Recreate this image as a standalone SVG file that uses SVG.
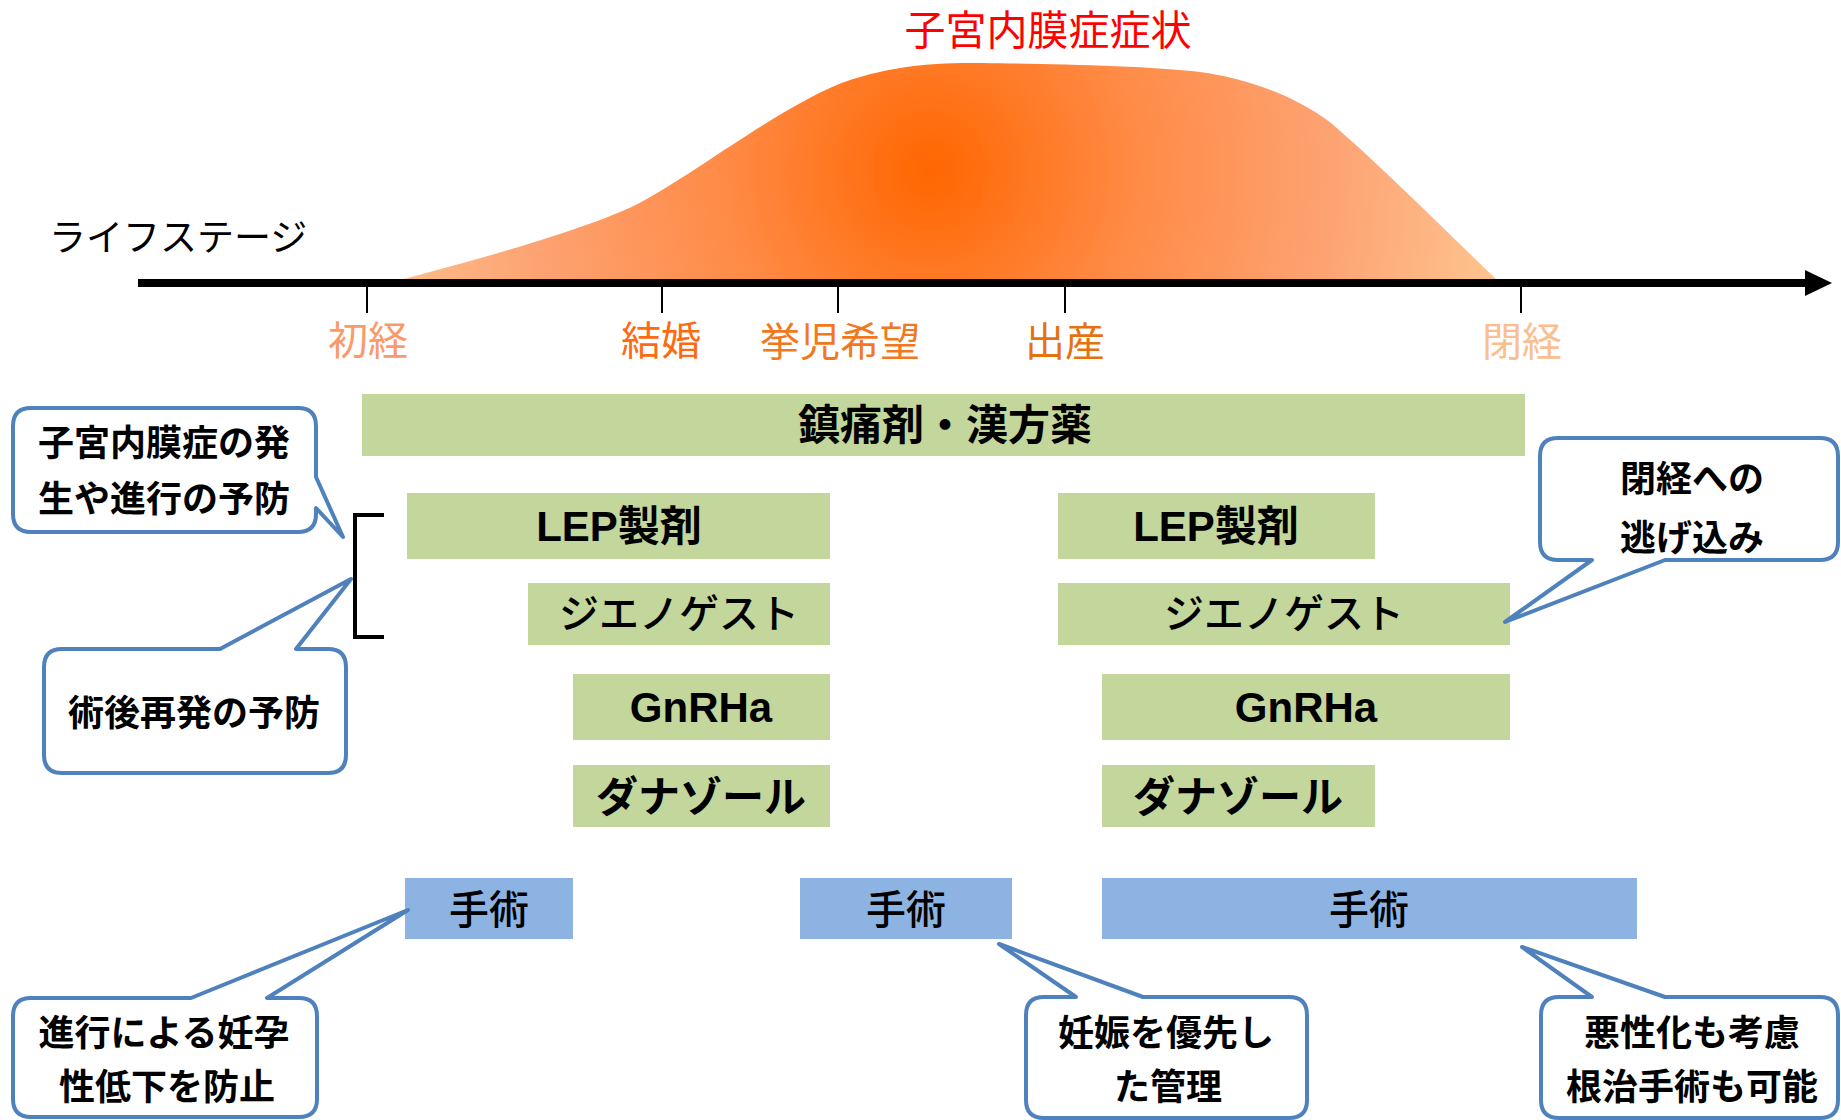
<svg xmlns="http://www.w3.org/2000/svg" width="1841" height="1120" viewBox="0 0 1841 1120">
<style>
.jp{font-family:"Noto Sans CJK JP","Liberation Sans",sans-serif}
.mix{font-family:"Liberation Sans","Noto Sans CJK JP",sans-serif}
.lbl{font-size:40px;text-anchor:middle}
.bar{fill:#C3D69B}
.sur{fill:#8DB3E2}
.bt{font-size:42px;font-weight:bold;text-anchor:middle;fill:#000}
.st{font-size:40px;font-weight:500;text-anchor:middle;fill:#000}
.co{fill:#fff;stroke:#4F81BD;stroke-width:4;stroke-linejoin:round}
.ct{font-size:36px;font-weight:bold;text-anchor:middle;fill:#000}
.tick{stroke:#000;stroke-width:2}
</style>
<defs>
<radialGradient id="hump" gradientUnits="userSpaceOnUse" cx="930" cy="170" r="580">
<stop offset="0" stop-color="#FF6600"/>
<stop offset="0.35" stop-color="#FF8A45"/>
<stop offset="0.7" stop-color="#FDA373"/>
<stop offset="1" stop-color="#FDC590"/>
</radialGradient>
</defs>
<rect width="1841" height="1120" fill="#fff"/>

<g id="symptom-curve">
<path d="M388,283 C470,262 600,226 645,200 C700,170 790,100 850,80 C890,67 930,62 983,63 C1050,64 1150,66 1200,72 C1245,78 1295,95 1331,123 C1380,165 1440,225 1500,283 Z" fill="url(#hump)"/>
<text class="jp" x="1048" y="45" font-size="41" text-anchor="middle" fill="#FF0000">子宮内膜症症状</text>
</g>

<g id="timeline">
<text class="jp" x="49" y="251" font-size="37" fill="#000">ライフステージ</text>
<line x1="138" y1="283" x2="1807" y2="283" stroke="#000" stroke-width="8"/>
<polygon points="1805,270 1832,283 1805,296" fill="#000"/>
<line class="tick" x1="367" y1="287" x2="367" y2="313"/>
<line class="tick" x1="662" y1="287" x2="662" y2="313"/>
<line class="tick" x1="838" y1="287" x2="838" y2="313"/>
<line class="tick" x1="1065" y1="287" x2="1065" y2="313"/>
<line class="tick" x1="1521" y1="287" x2="1521" y2="313"/>
<text class="jp lbl" x="368" y="355" fill="#FA9A6A">初経</text>
<text class="jp lbl" x="661" y="355" fill="#FF6A10">結婚</text>
<text class="jp lbl" x="840" y="356" fill="#F2781E">挙児希望</text>
<text class="jp lbl" x="1065" y="356" fill="#E6720F">出産</text>
<text class="jp lbl" x="1522" y="356" fill="#FBBE8E">閉経</text>
</g>

<g id="analgesic">
<rect class="bar" x="362" y="394" width="1163" height="62"/>
<text class="jp bt" x="945" y="440">鎮痛剤・漢方薬</text>
</g>
<g id="lep-left">
<rect class="bar" x="407" y="493" width="423" height="66"/>
<text class="mix bt" x="619" y="541">LEP製剤</text>
</g>
<g id="dienogest-left">
<rect class="bar" x="528" y="583" width="302" height="62"/>
<text class="jp st" x="679" y="628" font-size="37">ジエノゲスト</text>
</g>
<g id="gnrha-left">
<rect class="bar" x="573" y="674" width="257" height="66"/>
<text class="mix bt" x="701" y="722">GnRHa</text>
</g>
<g id="danazol-left">
<rect class="bar" x="573" y="765" width="257" height="62"/>
<text class="jp bt" x="701" y="812">ダナゾール</text>
</g>

<g id="lep-right">
<rect class="bar" x="1058" y="493" width="317" height="66"/>
<text class="mix bt" x="1216" y="541">LEP製剤</text>
</g>
<g id="dienogest-right">
<rect class="bar" x="1058" y="583" width="452" height="62"/>
<text class="jp st" x="1284" y="628" font-size="37">ジエノゲスト</text>
</g>
<g id="gnrha-right">
<rect class="bar" x="1102" y="674" width="408" height="66"/>
<text class="mix bt" x="1306" y="722">GnRHa</text>
</g>
<g id="danazol-right">
<rect class="bar" x="1102" y="765" width="273" height="62"/>
<text class="jp bt" x="1238" y="812">ダナゾール</text>
</g>

<g id="surgery-1">
<rect class="sur" x="405" y="878" width="168" height="61"/>
<text class="jp st" x="489" y="924">手術</text>
</g>
<g id="surgery-2">
<rect class="sur" x="800" y="878" width="212" height="61"/>
<text class="jp st" x="906" y="924">手術</text>
</g>
<g id="surgery-3">
<rect class="sur" x="1102" y="878" width="535" height="61"/>
<text class="jp st" x="1369" y="924">手術</text>
</g>

<g id="connectors">
<path d="M384,515 H355 V637 H384" fill="none" stroke="#000" stroke-width="4"/>
</g>

<g id="callout-prevent">
<path class="co" d="M31,408 H298 Q316,408 316,426 V477 L343,537 L316,508 V514 Q316,532 298,532 H31 Q13,532 13,514 V426 Q13,408 31,408 Z"/>
<text class="jp ct" x="164" y="456">子宮内膜症の発</text>
<text class="jp ct" x="164" y="512">生や進行の予防</text>
</g>
<g id="callout-postop">
<path class="co" d="M62,649 H220 L351,579 L296,649 H328 Q346,649 346,667 V755 Q346,773 328,773 H62 Q44,773 44,755 V667 Q44,649 62,649 Z"/>
<text class="jp ct" x="194" y="726">術後再発の予防</text>
</g>
<g id="callout-menopause">
<path class="co" d="M1558,438 H1820 Q1838,438 1838,456 V542 Q1838,560 1820,560 H1665 L1505,622 L1592,560 H1558 Q1540,560 1540,542 V456 Q1540,438 1558,438 Z"/>
<text class="jp ct" x="1692" y="492">閉経への</text>
<text class="jp ct" x="1692" y="551">逃げ込み</text>
</g>
<g id="callout-fertility">
<path class="co" d="M31,998 H191 L408,910 L267,998 H299 Q317,998 317,1016 V1099 Q317,1117 299,1117 H31 Q13,1117 13,1099 V1016 Q13,998 31,998 Z"/>
<text class="jp ct" x="164" y="1046">進行による妊孕</text>
<text class="jp ct" x="167" y="1100">性低下を防止</text>
</g>
<g id="callout-pregnancy">
<path class="co" d="M1044,997 H1076 L999,944 L1143,997 H1289 Q1307,997 1307,1015 V1100 Q1307,1118 1289,1118 H1044 Q1026,1118 1026,1100 V1015 Q1026,997 1044,997 Z"/>
<text class="jp ct" x="1166" y="1046">妊娠を優先し</text>
<text class="jp ct" x="1168" y="1100">た管理</text>
</g>
<g id="callout-radical">
<path class="co" d="M1559,997 H1592 L1522,947 L1665,997 H1820 Q1838,997 1838,1015 V1100 Q1838,1118 1820,1118 H1559 Q1541,1118 1541,1100 V1015 Q1541,997 1559,997 Z"/>
<text class="jp ct" x="1692" y="1046">悪性化も考慮</text>
<text class="jp ct" x="1692" y="1100">根治手術も可能</text>
</g>
</svg>
